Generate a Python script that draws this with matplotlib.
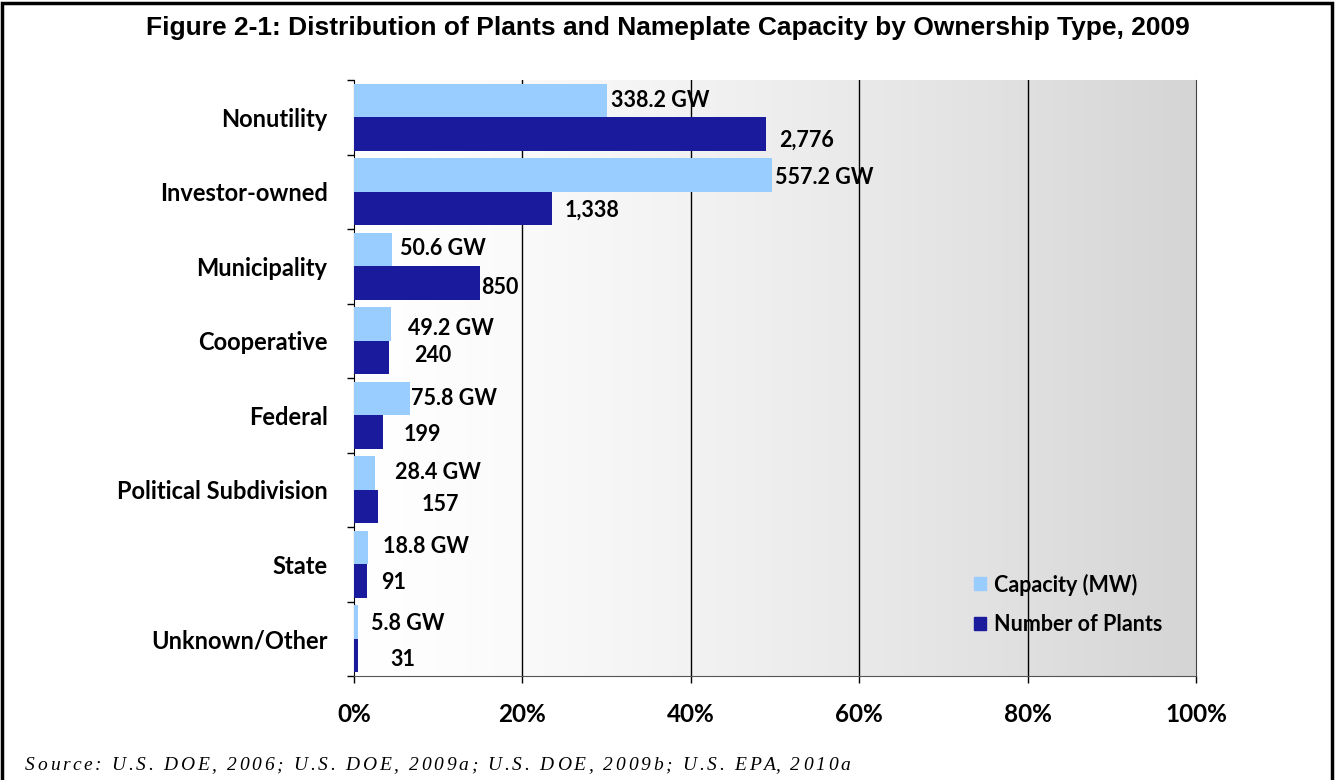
import matplotlib.pyplot as plt
import matplotlib.patches as mpatches
import numpy as np

# ownership categories, top to bottom
categories = ['Nonutility', 'Investor-owned', 'Municipality', 'Cooperative',
              'Federal', 'Political Subdivision', 'State', 'Unknown/Other']
# share of total (%)
capacity_pct = [30.1, 49.6, 4.5, 4.4, 6.7, 2.5, 1.7, 0.5]
plants_pct = [48.9, 23.5, 15.0, 4.2, 3.5, 2.8, 1.6, 0.5]
capacity_labels = ['338.2 GW', '557.2 GW', '50.6 GW', '49.2 GW',
                   '75.8 GW', '28.4 GW', '18.8 GW', '5.8 GW']
plants_labels = ['2,776', '1,338', '850', '240', '199', '157', '91', '31']
xticks = [0, 20, 40, 60, 80, 100]
xtick_labels = ['0%', '20%', '40%', '60%', '80%', '100%']

# hand placed label offsets (pixels from bar end / bar centre)
cap_dx = [4, 3, 8, 17, 1, 20, 15, 13]
cap_dy = [0, 3, -1, 5, 0, 0, -1, 2]
pl_dx = [13, 13, 1, 25, 20, 44, 14, 32]
pl_dy = [6, 2, 4, -2, 2, -2, 1, 4]

light = '#99ccff'
dark = '#1a1a9c'
lab_font = 'Lato'
W, H = 1336, 780

fig = plt.figure(figsize=(W / 100, H / 100), dpi=100)
ax = fig.add_axes([354 / W, 1 - 676 / H, 842 / W, 596 / H])

# gradient background
grad = np.linspace(0, 1, 256) ** 1.3
bg = (1 - 0.165 * grad)[None, :]
ax.imshow(np.repeat(bg[:, :, None], 3, axis=2), extent=[0, 100, 7.5, -0.5],
          aspect='auto', zorder=0, interpolation='bilinear')

y = np.arange(len(categories))
h = 0.45
ax.barh(y - h / 2, capacity_pct, height=h, color=light, zorder=3)
ax.barh(y + h / 2, plants_pct, height=h, color=dark, zorder=3)

for i in range(len(categories)):
    ax.annotate(capacity_labels[i], (capacity_pct[i], y[i] - h / 2),
                xytext=(cap_dx[i], -cap_dy[i]), textcoords='offset pixels',
                ha='left', va='center', fontsize=15.5, fontweight='bold',
                family=lab_font, zorder=4)
    ax.annotate(plants_labels[i], (plants_pct[i], y[i] + h / 2),
                xytext=(pl_dx[i], -pl_dy[i]), textcoords='offset pixels',
                ha='left', va='center', fontsize=15.5, fontweight='bold',
                family=lab_font, zorder=4)

ax.set_xlim(0, 100)
ax.set_ylim(7.5, -0.5)
ax.set_xticks(xticks)
ax.set_xticklabels(xtick_labels, fontsize=17.5, fontweight='bold', family=lab_font)
ax.tick_params(axis='x', length=5, width=1, pad=14.5)
ax.set_yticks(np.arange(-0.5, 8, 1))
ax.set_yticklabels([])
ax.tick_params(axis='y', length=5, width=1)
ax.set_yticks(y, minor=True)
ax.set_yticklabels(categories, minor=True, fontsize=17, fontweight='bold', family=lab_font)
ax.tick_params(axis='y', which='minor', length=0, pad=19)

for gx in xticks[1:-1]:
    ax.axvline(gx, color='black', lw=1, zorder=2)

ax.spines['top'].set_visible(False)
ax.spines['left'].set_color('black')
ax.spines['bottom'].set_color('#555555')
ax.spines['right'].set_color('#444444')

handles = [mpatches.Patch(color=light, label='Capacity (MW)'),
           mpatches.Patch(color=dark, label='Number of Plants')]
ax.legend(handles=handles, loc='upper left', bbox_to_anchor=(0.736, 0.172),
          borderaxespad=0, borderpad=0, frameon=False,
          handlelength=0.56, handleheight=0.56, handletextpad=0.4,
          labelspacing=0.86, prop={'family': lab_font, 'size': 15.5, 'weight': 'bold'})

fig.text(0.5, 1 - 28 / H, 'Figure 2-1: Distribution of Plants and Nameplate Capacity by Ownership Type, 2009',
         ha='center', va='center', fontsize=19, fontweight='bold', family='Liberation Sans')

# source line, letter spaced
source = 'Source: U.S. DOE, 2006; U.S. DOE, 2009a; U.S. DOE, 2009b; U.S. EPA, 2010a'
src_kw = dict(fontsize=14, style='italic', family='Liberation Serif', va='center', ha='left')
r = fig.canvas.get_renderer()


def text_w(s):
    t = fig.text(0, 0, s + '|', **src_kw)
    w = t.get_window_extent(renderer=r).width
    t.remove()
    return w


bar_w = text_w('')
track = 2.7
for k, ch in enumerate(source):
    x0 = 25 + text_w(source[:k]) - bar_w + k * track
    fig.text(x0 / W, 1 - 766 / H, ch, **src_kw)

fig.patches.append(mpatches.Rectangle((2 / W, -0.1), 1330 / W, 1.1 - 3 / H,
                                      transform=fig.transFigure, fill=False,
                                      edgecolor='black', lw=2.5))

fig.savefig('out.png', dpi=100)
